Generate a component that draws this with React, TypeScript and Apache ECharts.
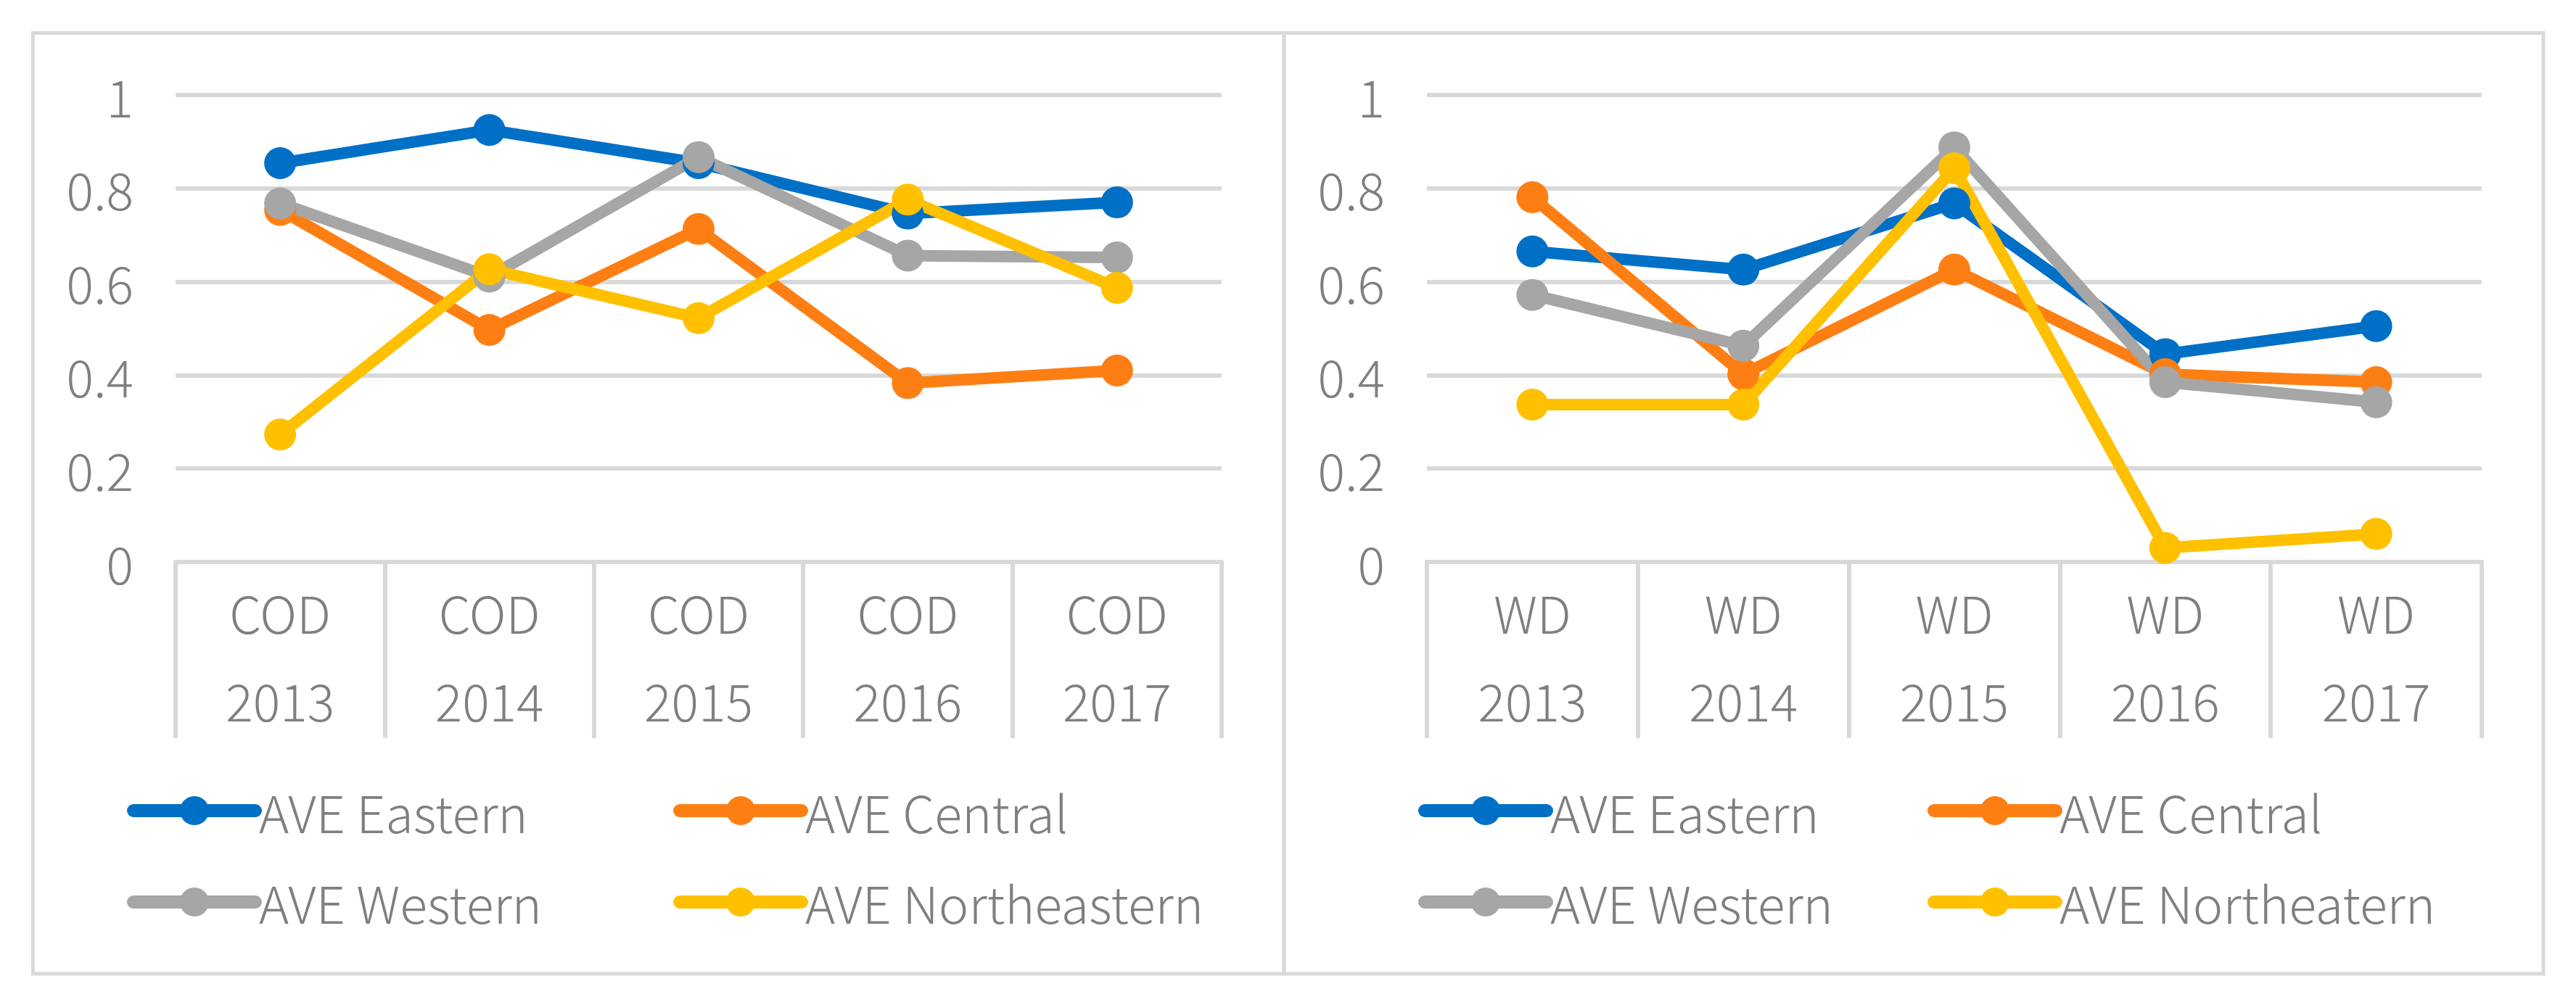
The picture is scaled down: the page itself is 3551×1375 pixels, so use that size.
import React, { useEffect, useRef } from 'react';
import * as echarts from 'echarts';

const years = ['2013', '2014', '2015', '2016', '2017'];
const leftPrefix = 'COD';
const rightPrefix = 'WD';
const leftNames = ['AVE Eastern', 'AVE Central', 'AVE Western', 'AVE Northeastern'];
const rightNames = ['AVE Eastern', 'AVE Central', 'AVE Western', 'AVE Northeatern'];

const codEastern = [0.854, 0.925, 0.854, 0.746, 0.77];
const codCentral = [0.754, 0.497, 0.713, 0.383, 0.41];
const codWestern = [0.768, 0.611, 0.867, 0.656, 0.652];
const codNortheastern = [0.273, 0.627, 0.522, 0.776, 0.587];

const wdEastern = [0.665, 0.626, 0.768, 0.445, 0.505];
const wdCentral = [0.781, 0.402, 0.626, 0.402, 0.385];
const wdWestern = [0.572, 0.463, 0.888, 0.385, 0.342];
const wdNortheatern = [0.337, 0.337, 0.843, 0.03, 0.06];

const yMin = 0;
const yMax = 1;
const yStep = 0.2;

const colors = ['#0070c6', '#fd7f14', '#a6a6a6', '#ffc000'];
const FONT = '"Noto Sans CJK SC", "Noto Sans", sans-serif';
const FW = 300;
const FS = 70;
const TEXT = '#7f7f7f';
const LINE = '#d9d9d9';

export default function App() {
  const ref = useRef<HTMLDivElement>(null);
  useEffect(() => {
    if (!ref.current) return;
    const chart = echarts.init(ref.current, undefined, { renderer: 'svg' });
    const grids = [
      { left: 242, top: 131, width: 1442, height: 644 },
      { left: 1967, top: 131, width: 1454, height: 644 },
    ];
    const prefixes = [leftPrefix, rightPrefix];
    const xAxis = prefixes.map((p, i) => ({
      type: 'category',
      gridIndex: i,
      data: years.map((y) => p + '\n' + y),
      boundaryGap: true,
      axisLine: { show: true, lineStyle: { color: LINE, width: 6 } },
      axisTick: { show: true, length: 243, lineStyle: { color: LINE, width: 6 } },
      axisLabel: {
        fontFamily: FONT,
        fontWeight: FW,
        fontSize: FS,
        color: TEXT,
        lineHeight: 121,
        margin: 8,
      },
      splitLine: { show: false },
    }));
    const yAxis = prefixes.map((_, i) => ({
      type: 'value',
      gridIndex: i,
      min: yMin,
      max: yMax,
      interval: yStep,
      axisLine: { show: false },
      axisTick: { show: false },
      axisLabel: { fontFamily: FONT, fontWeight: FW, fontSize: FS, color: TEXT, margin: 58 },
      splitLine: { show: true, lineStyle: { color: LINE, width: 6 } },
    }));
    const leftData = [codEastern, codCentral, codWestern, codNortheastern];
    const rightData = [wdEastern, wdCentral, wdWestern, wdNortheatern];
    const mk = (names: string[], data: number[][], gi: number) =>
      names.map((n, k) => ({
        name: n,
        type: 'line',
        xAxisIndex: gi,
        yAxisIndex: gi,
        data: data[k],
        symbol: 'circle',
        symbolSize: 44,
        showSymbol: true,
        lineStyle: { width: 16, color: colors[k], cap: 'round', join: 'round' },
        itemStyle: { color: colors[k] },
        emphasis: { disabled: true },
      }));
    const series = [...mk(leftNames, leftData, 0), ...mk(rightNames, rightData, 1)];
    const legendBase = {
      orient: 'vertical',
      top: 1083,
      itemWidth: 168,
      itemHeight: 50,
      itemGap: 56,
      selectedMode: false,
      padding: 0,
      textStyle: { fontFamily: FONT, fontWeight: FW, fontSize: FS, color: TEXT, lineHeight: 50 },
      lineStyle: { width: 18, cap: 'round' },
    };
    const legend = [
      { ...legendBase, left: 175, data: [leftNames[0], leftNames[2]] },
      { ...legendBase, left: 928, data: [leftNames[1], leftNames[3]] },
      { ...legendBase, left: 1955, data: [rightNames[0], rightNames[2]] },
      { ...legendBase, left: 2657, data: [rightNames[1], rightNames[3]] },
    ];
    chart.setOption({
      animation: false,
      backgroundColor: '#ffffff',
      grid: grids,
      xAxis,
      yAxis,
      legend,
      series,
      graphic: [
        { type: 'rect', shape: { x: 45.5, y: 45.5, width: 1724.5, height: 1297.5 }, style: { fill: 'none', stroke: LINE, lineWidth: 5 }, z: -1 },
        { type: 'rect', shape: { x: 1770, y: 45.5, width: 1736, height: 1297.5 }, style: { fill: 'none', stroke: LINE, lineWidth: 5 }, z: -1 },
      ],
    });
    return () => chart.dispose();
  }, []);
  return (
    <div
      ref={ref}
      style={{ position: 'absolute', left: 0, top: 0, width: 3551, height: 1375 }}
    />
  );
}
